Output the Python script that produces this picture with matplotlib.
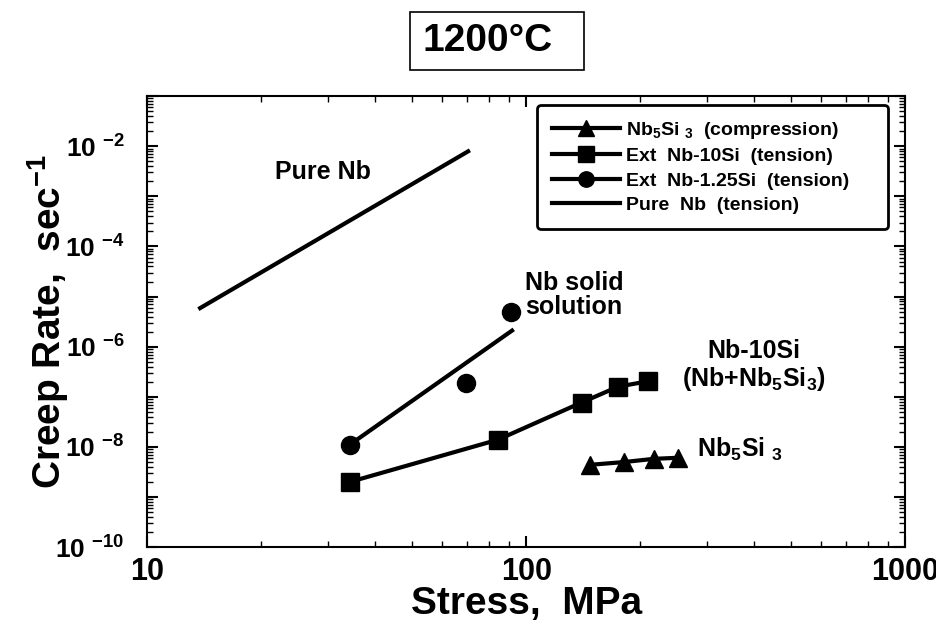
import matplotlib
matplotlib.use("Agg")
import matplotlib.pyplot as plt
from matplotlib.patches import Rectangle
from matplotlib.ticker import LogLocator, NullFormatter

plt.rcParams['font.family'] = ['Liberation Sans', 'DejaVu Sans']
plt.rcParams['font.weight'] = 'bold'
plt.rcParams['axes.labelweight'] = 'bold'
plt.rcParams['mathtext.fontset'] = 'custom'
plt.rcParams['mathtext.rm'] = 'Liberation Sans:bold'
plt.rcParams['mathtext.it'] = 'Liberation Sans:bold'
plt.rcParams['mathtext.bf'] = 'Liberation Sans:bold'

# --- data (stress MPa, creep rate 1/s) ---
nb5si3_stress = [147, 181, 217, 252]
nb5si3_rate = [4.4e-9, 5.0e-9, 5.8e-9, 6.1e-9]

nb10si_stress = [34.2, 84.3, 140, 175, 210]
nb10si_rate = [2.0e-9, 1.4e-8, 7.7e-8, 1.6e-7, 2.05e-7]

nb125si_stress = [34.2, 69.3, 91.2]
nb125si_rate = [1.1e-8, 1.85e-7, 4.9e-6]
nb125si_fit_stress = [34.2, 91.8]
nb125si_fit_rate = [1.1e-8, 2.1e-6]

pure_nb_stress = [13.8, 70.3]
pure_nb_rate = [5.9e-6, 7.9e-3]

x_ticks = [10, 100, 1000]
y_exps = list(range(-10, 0))

fig = plt.figure(figsize=(9.37, 6.24), dpi=100)
ax = fig.add_axes([0.157, 0.123, 0.809, 0.723])

lw = 3
ms = 13
ax.plot(nb5si3_stress, nb5si3_rate, '-^', color='black', lw=lw, ms=ms,
        label='Nb$_5$Si $_3$  (compression)')
ax.plot(nb10si_stress, nb10si_rate, '-s', color='black', lw=lw, ms=ms,
        label='Ext  Nb-10Si  (tension)')
ax.plot(nb125si_stress, nb125si_rate, 'o', color='black', ms=ms)
ax.plot(nb125si_fit_stress, nb125si_fit_rate, '-', color='black', lw=lw)
ax.plot([], [], '-o', color='black', lw=lw, ms=ms,
        label='Ext  Nb-1.25Si  (tension)')
ax.plot(pure_nb_stress, pure_nb_rate, '-', color='black', lw=lw,
        label='Pure  Nb  (tension)')

ax.set_xscale('log')
ax.set_yscale('log')
ax.set_xlim(10, 1000)
ax.set_ylim(1e-10, 1e-1)

ax.set_xticks(x_ticks)
ax.set_xticklabels([str(t) for t in x_ticks], fontsize=22)
ax.xaxis.set_minor_locator(LogLocator(base=10, subs=range(2, 10)))
ax.xaxis.set_minor_formatter(NullFormatter())

ax.set_yticks([10.0 ** e for e in y_exps])
ax.set_yticklabels(['10 $^{%d}$' % e if e % 2 == 0 else '' for e in y_exps],
                   fontsize=19)
ax.yaxis.set_minor_locator(LogLocator(base=10, subs=range(2, 10), numticks=20))
ax.yaxis.set_minor_formatter(NullFormatter())

ax.tick_params(which='both', direction='in', top=True, right=True)
ax.tick_params(which='major', length=8, width=1.5)
ax.tick_params(which='minor', length=4, width=1)
ax.tick_params(axis='x', which='major', pad=7)
ax.tick_params(axis='y', which='major', pad=16)
for s in ax.spines.values():
    s.set_linewidth(1.5)

ax.set_xlabel('Stress,  MPa', fontsize=28, labelpad=-1)
ax.set_ylabel('Creep Rate,  sec$^{-1}$', fontsize=28, labelpad=-11)

# annotations
ax.text(21.8, 3.1e-3, 'Pure Nb', fontsize=18, ha='left', va='center')
ax.text(99.3, 1.1e-5, 'Nb solid\nsolution', fontsize=18, ha='left',
        va='center', linespacing=1.0)
ax.text(398, 4.2e-7, 'Nb-10Si\n(Nb+Nb$_5$Si$_3$)', fontsize=18, ha='center',
        va='center', linespacing=1.1)
ax.text(282, 8.8e-9, 'Nb$_5$Si $_3$', fontsize=18, ha='left', va='center')

leg = ax.legend(loc='upper left', bbox_to_anchor=(0.5145, 0.5, 0.463, 0.48),
                mode='expand', borderaxespad=0, fontsize=14,
                handlelength=3.5, markerscale=0.85, frameon=True,
                fancybox=True, labelspacing=0.35, handletextpad=0.3,
                borderpad=0.75)
leg.get_frame().set_edgecolor('black')
leg.get_frame().set_linewidth(2)
leg.get_frame().set_alpha(1)

# title box
fig.text(0.52, 0.934, '1200°C', fontsize=28, ha='center', va='center')
fig.patches.append(Rectangle((410 / 937, 1 - 70 / 624), 174 / 937, 58 / 624,
                             transform=fig.transFigure, fill=False,
                             edgecolor='black', lw=1.2))

fig.savefig('out.png', dpi=100)
